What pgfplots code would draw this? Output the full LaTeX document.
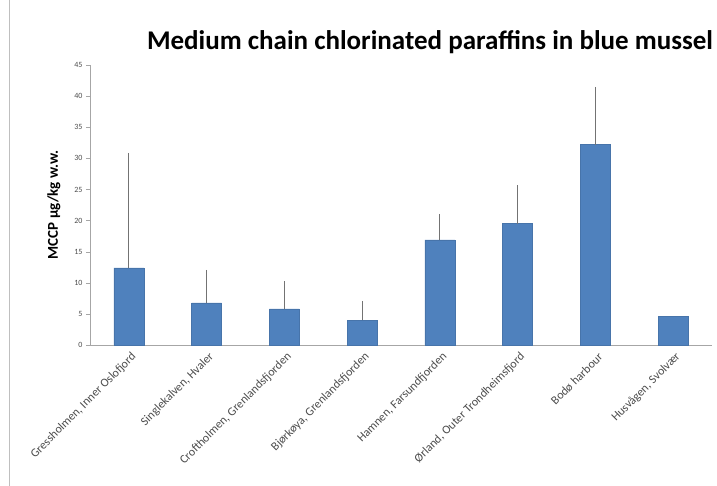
\documentclass[border=0pt]{standalone}
\usepackage{pgfplots}
\pgfplotsset{compat=1.18}
\usepackage{fontspec}
\setmainfont{Carlito}
\definecolor{barblue}{HTML}{4F81BD}
\definecolor{axisgray}{HTML}{A6A6A6}
\begin{document}
\begin{tikzpicture}
\useasboundingbox (-90pt,-141pt) rectangle (627pt,345pt);
\draw[black!25, line width=1pt] (-80pt,-141pt) -- (-80pt,345pt);
\begin{axis}[
    scale only axis,
    width=622pt, height=280pt,
    ymin=0, ymax=45, ytick={0,5,...,45},
    xmin=-0.5, xmax=7.5,
    xtick={0,...,7},
    xticklabels={
        {Gressholmen, Inner Oslofjord},
        {Singlekalven, Hvaler},
        {Croftholmen, Grenlandsfjorden},
        {Bjørkøya, Grenlandsfjorden},
        {Hamnen, Farsundfjorden},
        {Ørland, Outer Trondheimsfjord},
        {Bodø harbour},
        {Husvågen, Svolvær}
    },
    axis x line*=bottom, axis y line*=left,
    axis line style={axisgray, -},
    tick align=outside,
    major tick length=4pt,
    tick style={axisgray},
    xtick style={draw=none},
    /pgf/number format/assume math mode=true,
    yticklabel style={font=\fontsize{8}{9}\selectfont, text=black!70},
    xticklabel style={rotate=45, anchor=east, font=\fontsize{12}{14}\selectfont,
        text=black!70, xshift=3pt, yshift=-8pt},
    ylabel={\textbf{MCCP µg/kg w.w.}},
    ylabel style={font=\fontsize{15}{17}\selectfont, at={(-26pt,0.5)}, anchor=south},
    clip=false,
    ybar, bar width=30pt, bar shift=0pt,
]
\addplot[fill=barblue, draw=barblue!90!black,
    error bars/.cd, y dir=plus, y explicit,
    error bar style={black!55, line width=0.8pt},
    error mark options={black!55, mark size=3pt, line width=0.8pt}]
coordinates {
    (0,12.4) +- (0,18.0)
    (1,6.75) +- (0,4.85)
    (2,5.8)  +- (0,4.0)
    (3,4.0)  +- (0,2.6)
    (4,16.9) +- (0,3.7)
    (5,19.5) +- (0,5.7)
    (6,32.2) +- (0,8.8)
};
\addplot[fill=barblue, draw=barblue!90!black] coordinates {(7,4.6)};
\end{axis}
\node[font=\bfseries\fontsize{27}{32}\selectfont] at (340pt,303pt)
    {Medium chain chlorinated paraffins in blue mussel};
\end{tikzpicture}
\end{document}
